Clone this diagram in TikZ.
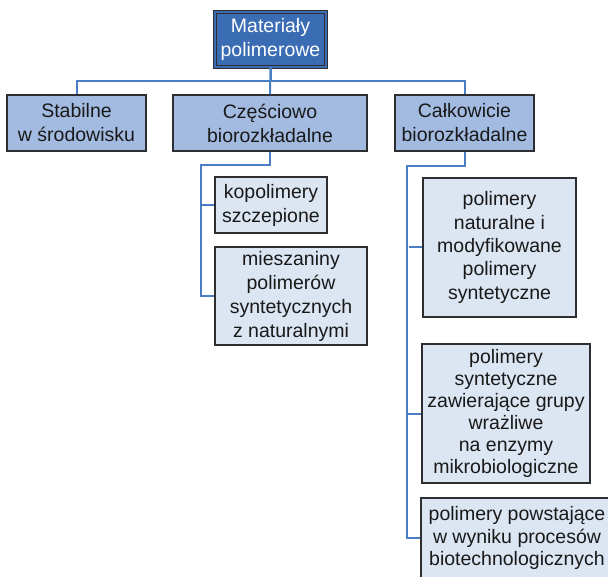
\documentclass[tikz,border=0pt]{standalone}
\usepackage{fontspec}
\setmainfont{Liberation Sans}
\usepackage{tikz}
\usetikzlibrary{positioning,calc}
\definecolor{rootblue}{RGB}{58,108,180}
\definecolor{midblue}{RGB}{163,187,225}
\definecolor{paleblue}{RGB}{220,229,242}
\definecolor{linkblue}{RGB}{74,126,194}
\definecolor{edgegray}{RGB}{45,45,50}

\begin{document}
\begin{tikzpicture}[box/.style={draw=edgegray, line width=1.1pt, inner sep=0pt, align=center, text=black!90, font=\fontsize{19.5}{24}\selectfont}, top/.style={box, fill=rootblue, double=rootblue, double distance=1.4pt, line width=0.9pt, text=white}, groupbox/.style={box, fill=midblue}, leafbox/.style={box, fill=paleblue}, conn/.style={draw=linkblue, line width=2pt}]
\useasboundingbox (0pt, 0pt) rectangle (608pt, -577pt);
\draw (270.5pt, -39.5pt)node[top, minimum width=111pt, minimum height=55pt](0){Materiały\\polimerowe};
\draw (76.5pt, -123.0pt)node[groupbox, minimum width=139pt, minimum height=56pt](1){Stabilne\\w środowisku};
\draw (270.0pt, -123.0pt)node[groupbox, minimum width=194pt, minimum height=56pt](2){Częściowo\\biorozkładalne};
\draw (464.5pt, -123.0pt)node[groupbox, minimum width=139pt, minimum height=56pt](3){Całkowicie\\biorozkładalne};
\draw (271.0pt, -205.0pt)node[leafbox, minimum width=112pt, minimum height=56pt](4){kopolimery\\szczepione};
\draw (291.0pt, -296.0pt)node[leafbox, minimum width=152pt, minimum height=98pt](5){mieszaniny\\polimerów\\syntetycznych\\z naturalnymi};
\draw (499.5pt, -247.5pt)node[leafbox, minimum width=153pt, minimum height=139pt, font=\fontsize{19.5}{23.3}\selectfont](6){polimery\\naturalne i\\modyfikowane\\polimery\\syntetyczne};
\draw (506.0pt, -413.5pt)node[leafbox, minimum width=168pt, minimum height=139pt, font=\fontsize{19.5}{22}\selectfont](7){polimery\\syntetyczne\\zawierające grupy\\wrażliwe\\na enzymy\\mikrobiologiczne};
\draw (517.0pt, -538.0pt)node[leafbox, minimum width=192pt, minimum height=80pt, font=\fontsize{19.5}{22.5}\selectfont](8){polimery powstające\\w wyniku procesów\\biotechnologicznych};
% main level
\draw[conn] (0.south) -- (2.north);
\draw[conn] (0.south) -- ++(0,-14pt) -| (1.north);
\draw[conn] (0.south) -- ++(0,-14pt) -| (3.north);
% partly degradable
\draw[conn] (2.south) -- ++(0,-13pt) -| ([xshift=-13pt]5.west) |- (5.west);
\draw[conn] ([xshift=-13pt]4.west) -- (4.west);
% fully degradable
\draw[conn] (3.south) -- ++(0,-14pt) -| ([xshift=-13pt]8.west) |- (8.west);
\draw[conn] ([xshift=-13pt]6.west) -- (6.west);
\draw[conn] ([xshift=-13pt]7.west) -- (7.west);
\end{tikzpicture}
\end{document}
